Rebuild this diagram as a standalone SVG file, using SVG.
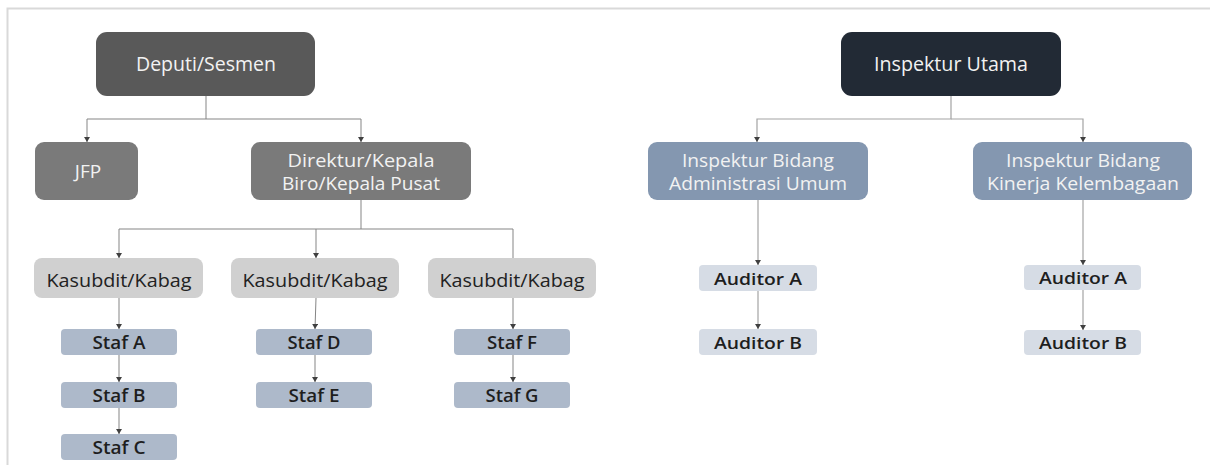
<svg xmlns="http://www.w3.org/2000/svg" width="1210" height="465" viewBox="0 0 1210 465">
  <style>
    text { font-family: "Open Sans", "Liberation Sans", sans-serif; text-anchor: middle; }
    .frame { fill: none; stroke: #d9d9d9; stroke-width: 2; }
    .link { fill: none; stroke: #858585; stroke-width: 1; }
    .link-lt { fill: none; stroke: #a3a3a3; stroke-width: 1.2; }
    .head-dark { fill: #595959; }
    .head-navy { fill: #222a35; }
    .mid-gray { fill: #7a7a7a; }
    .light-gray { fill: #d0d0d0; }
    .staf { fill: #adb9ca; }
    .bidang { fill: #8497b0; }
    .auditor { fill: #d6dce5; }
    .t-light { fill: #f2f2f2; }
    .t-dark { fill: #222222; }
    .t-bold { fill: #1e1e1e; font-weight: 600; }
  </style>
  <defs>
    <marker id="arrow" viewBox="0 0 5 6" refX="5" refY="3" markerWidth="5" markerHeight="6" markerUnits="userSpaceOnUse" orient="auto">
      <path d="M0,0 L5,3 L0,6 Z" fill="#404040"/>
    </marker>
  </defs>

  <rect width="1210" height="465" fill="#ffffff"/>
  <path class="frame" d="M7.5,465 V8.5 H1210"/>

  <!-- connectors -->
  <g id="connectors">
    <path class="link" d="M206,96 V119 H87 V142" marker-end="url(#arrow)"/>
    <path class="link" d="M206,119 H361 V142" marker-end="url(#arrow)"/>
    <path class="link" d="M361,200 V229 H119 V258" marker-end="url(#arrow)"/>
    <path class="link" d="M316,229 V258" marker-end="url(#arrow)"/>
    <path class="link" d="M361,229 H513 V258"/>
    <path class="link" d="M119,298 V329" marker-end="url(#arrow)"/>
    <path class="link" d="M119,355 V382" marker-end="url(#arrow)"/>
    <path class="link" d="M119,408 V434" marker-end="url(#arrow)"/>
    <path class="link" d="M316,298 L315,329" marker-end="url(#arrow)"/>
    <path class="link" d="M315,355 V382" marker-end="url(#arrow)"/>
    <path class="link" d="M513,298 V329" marker-end="url(#arrow)"/>
    <path class="link" d="M513,355 V382" marker-end="url(#arrow)"/>
    <path class="link-lt" d="M951,96 V119 H757 V142" marker-end="url(#arrow)"/>
    <path class="link-lt" d="M951,119 H1083 V142" marker-end="url(#arrow)"/>
    <path class="link-lt" d="M758,200 V265" marker-end="url(#arrow)"/>
    <path class="link-lt" d="M758,291 V329" marker-end="url(#arrow)"/>
    <path class="link-lt" d="M1083,200 V265" marker-end="url(#arrow)"/>
    <path class="link-lt" d="M1083,290 V330" marker-end="url(#arrow)"/>
  </g>

  <!-- left tree -->
  <g id="deputi">
    <rect class="head-dark" x="96" y="32" width="219" height="64" rx="11"/>
    <text class="t-light" x="206" y="71" font-size="20" textLength="140" lengthAdjust="spacingAndGlyphs">Deputi/Sesmen</text>
  </g>
  <g id="jfp">
    <rect class="mid-gray" x="35" y="142" width="103" height="58" rx="9"/>
    <text class="t-light" x="88" y="178" font-size="19">JFP</text>
  </g>
  <g id="direktur">
    <rect class="mid-gray" x="251" y="142" width="220" height="58" rx="9"/>
    <text class="t-light" x="361" y="167" font-size="17.5" textLength="147" lengthAdjust="spacingAndGlyphs">Direktur/Kepala</text>
    <text class="t-light" x="361" y="190" font-size="17.5" textLength="158" lengthAdjust="spacingAndGlyphs">Biro/Kepala Pusat</text>
  </g>
  <g id="kasubdit-1">
    <rect class="light-gray" x="34" y="258" width="169" height="40" rx="8"/>
    <text class="t-dark" x="119" y="286.5" font-size="19" textLength="145" lengthAdjust="spacingAndGlyphs">Kasubdit/Kabag</text>
  </g>
  <g id="kasubdit-2">
    <rect class="light-gray" x="231" y="258" width="168" height="40" rx="8"/>
    <text class="t-dark" x="315" y="286.5" font-size="19" textLength="145" lengthAdjust="spacingAndGlyphs">Kasubdit/Kabag</text>
  </g>
  <g id="kasubdit-3">
    <rect class="light-gray" x="428" y="258" width="168" height="40" rx="8"/>
    <text class="t-dark" x="512" y="286.5" font-size="19" textLength="145" lengthAdjust="spacingAndGlyphs">Kasubdit/Kabag</text>
  </g>
  <g id="staf-a">
    <rect class="staf" x="61" y="329" width="116" height="26" rx="4"/>
    <text class="t-bold" x="119" y="348.5" font-size="17.5" textLength="53" lengthAdjust="spacingAndGlyphs">Staf A</text>
  </g>
  <g id="staf-b">
    <rect class="staf" x="61" y="382" width="116" height="26" rx="4"/>
    <text class="t-bold" x="119" y="401.5" font-size="17.5" textLength="53" lengthAdjust="spacingAndGlyphs">Staf B</text>
  </g>
  <g id="staf-c">
    <rect class="staf" x="61" y="434" width="116" height="26" rx="4"/>
    <text class="t-bold" x="119" y="453.5" font-size="17.5" textLength="53" lengthAdjust="spacingAndGlyphs">Staf C</text>
  </g>
  <g id="staf-d">
    <rect class="staf" x="256" y="329" width="116" height="26" rx="4"/>
    <text class="t-bold" x="314" y="348.5" font-size="17.5" textLength="53" lengthAdjust="spacingAndGlyphs">Staf D</text>
  </g>
  <g id="staf-e">
    <rect class="staf" x="256" y="382" width="116" height="26" rx="4"/>
    <text class="t-bold" x="314" y="401.5" font-size="17.5" textLength="51" lengthAdjust="spacingAndGlyphs">Staf E</text>
  </g>
  <g id="staf-f">
    <rect class="staf" x="454" y="329" width="116" height="26" rx="4"/>
    <text class="t-bold" x="512" y="348.5" font-size="17.5" textLength="50" lengthAdjust="spacingAndGlyphs">Staf F</text>
  </g>
  <g id="staf-g">
    <rect class="staf" x="454" y="382" width="116" height="26" rx="4"/>
    <text class="t-bold" x="512" y="401.5" font-size="17.5" textLength="53" lengthAdjust="spacingAndGlyphs">Staf G</text>
  </g>

  <!-- right tree -->
  <g id="inspektur-utama">
    <rect class="head-navy" x="841" y="32" width="220" height="64" rx="11"/>
    <text class="t-light" x="951" y="71" font-size="20" textLength="154" lengthAdjust="spacingAndGlyphs">Inspektur Utama</text>
  </g>
  <g id="bidang-administrasi">
    <rect class="bidang" x="648" y="142" width="220" height="58" rx="9"/>
    <text class="t-light" x="758" y="167" font-size="17.5" textLength="152" lengthAdjust="spacingAndGlyphs">Inspektur Bidang</text>
    <text class="t-light" x="758" y="190" font-size="17.5" textLength="178" lengthAdjust="spacingAndGlyphs">Administrasi Umum</text>
  </g>
  <g id="bidang-kinerja">
    <rect class="bidang" x="973" y="142" width="219" height="58" rx="9"/>
    <text class="t-light" x="1083" y="167" font-size="17.5" textLength="154" lengthAdjust="spacingAndGlyphs">Inspektur Bidang</text>
    <text class="t-light" x="1083" y="190" font-size="17.5" textLength="192" lengthAdjust="spacingAndGlyphs">Kinerja Kelembagaan</text>
  </g>
  <g id="auditor-a-1">
    <rect class="auditor" x="699" y="265" width="118" height="26" rx="4"/>
    <text class="t-bold" x="758" y="284.5" font-size="16.5" textLength="88" lengthAdjust="spacingAndGlyphs">Auditor A</text>
  </g>
  <g id="auditor-b-1">
    <rect class="auditor" x="699" y="329" width="118" height="26" rx="4"/>
    <text class="t-bold" x="758" y="348.5" font-size="16.5" textLength="88" lengthAdjust="spacingAndGlyphs">Auditor B</text>
  </g>
  <g id="auditor-a-2">
    <rect class="auditor" x="1024" y="265" width="117" height="25" rx="4"/>
    <text class="t-bold" x="1083" y="284" font-size="16.5" textLength="88" lengthAdjust="spacingAndGlyphs">Auditor A</text>
  </g>
  <g id="auditor-b-2">
    <rect class="auditor" x="1024" y="330" width="117" height="25" rx="4"/>
    <text class="t-bold" x="1083" y="349" font-size="16.5" textLength="88" lengthAdjust="spacingAndGlyphs">Auditor B</text>
  </g>
</svg>
